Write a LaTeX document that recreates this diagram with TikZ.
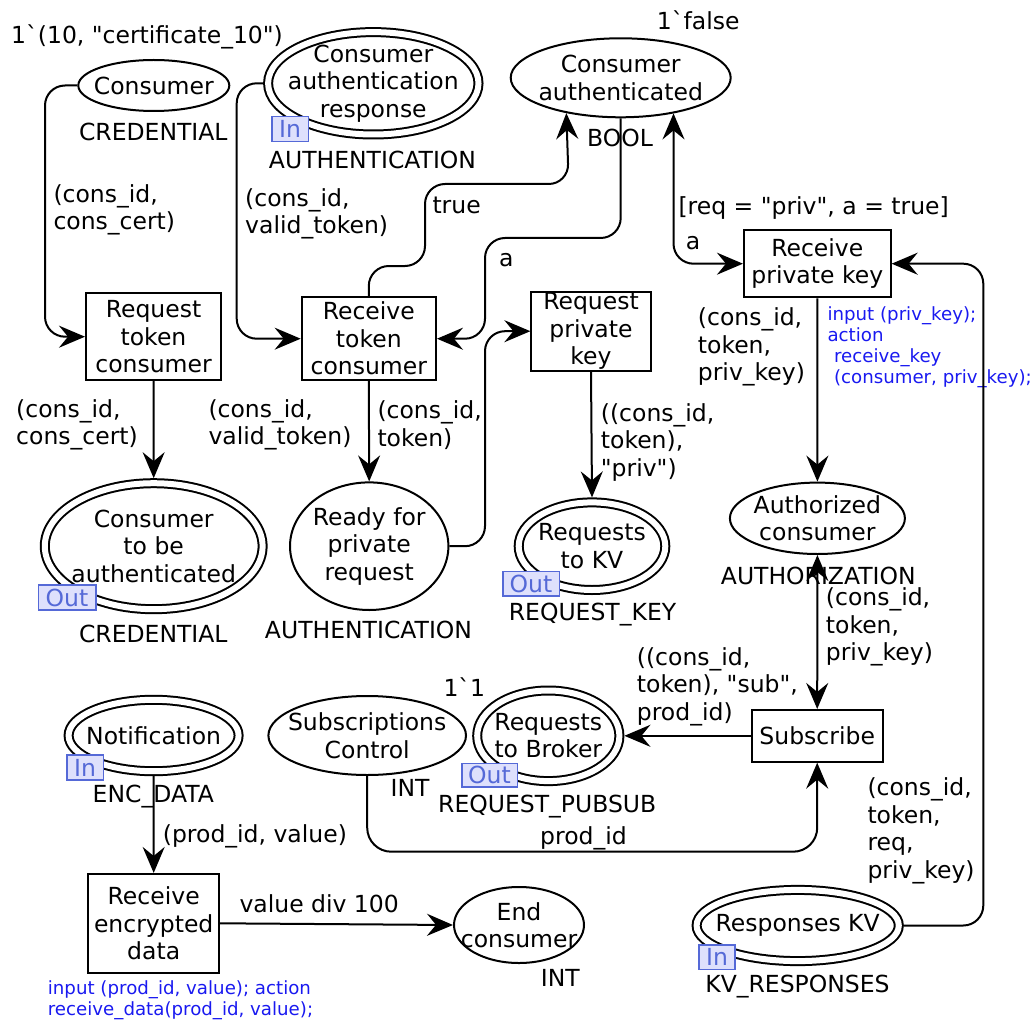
\documentclass[tikz,border=0pt]{standalone}
\usepackage{fontspec}
\newfontfamily\cpnfont{DejaVu Sans}
\usetikzlibrary{shapes.geometric,arrows.meta}
\definecolor{codeblue}{RGB}{25,25,240}
\definecolor{portline}{RGB}{85,105,215}
\definecolor{portfill}{RGB}{222,224,252}

\tikzset{
  place/.style={ellipse, draw, line width=2pt, inner sep=0pt},
  ioplace/.style={ellipse, draw, line width=2pt, double=white, double distance=6pt, inner sep=0pt, outer sep=5pt},
  trans/.style={rectangle, draw, line width=2pt, inner sep=0pt, align=center},
  ptext/.style={align=center, inner sep=0pt},
  lbl/.style={inner sep=0pt, anchor=west, align=left},
  ctr/.style={inner sep=0pt},
  code/.style={inner sep=0pt, anchor=west, align=left, text=codeblue, font=\cpnfont\fontsize{18.2pt}{20.8pt}\selectfont},
  port/.style={draw=portline, fill=portfill, text=portline, line width=1.6pt, inner sep=0pt},
  cpn/.tip={Stealth[length=26pt,width=22pt,inset=9pt]},
  arc/.style={draw, line width=2pt, -{cpn}, rounded corners=20pt},
  biarc/.style={draw, line width=2pt, {cpn}-{cpn}, rounded corners=20pt},
}

\begin{document}
\begin{tikzpicture}[x=1pt, y=-1pt, font=\cpnfont\fontsize{23.5pt}{27.5pt}\selectfont]
\path[use as bounding box] (0,0) rectangle (1035,1024);

% places
\node[place, minimum width=151, minimum height=51, label={[ptext]center:Consumer}] (cons) at (153.8,85.5) {};
\node[ioplace, minimum width=210.4, minimum height=102.4, label={[ptext]center:Consumer\\authentication\\response}] (car) at (373.3,83.3) {};
\node[place, minimum width=220, minimum height=79, label={[ptext]center:Consumer\\authenticated}] (ca) at (620.7,77.8) {};
\node[ioplace, minimum width=217.8, minimum height=126, label={[ptext]center:Consumer\\to be\\authenticated}] (ctba) at (153.7,546.2) {};
\node[place, minimum width=158.4, minimum height=127.6, label={[ptext]center:Ready for\\private\\request}] (rfp) at (369.2,546.2) {};
\node[ioplace, minimum width=146.6, minimum height=87.6, label={[ptext]center:Requests\\to KV}] (rkv) at (592,546.2) {};
\node[place, minimum width=175, minimum height=71.4, label={[ptext]center:Authorized\\consumer}] (ac) at (817.4,518.3) {};
\node[ioplace, minimum width=170, minimum height=71.4, label={[ptext]center:Notification}] (notif) at (153.6,735.5) {};
\node[place, minimum width=197.6, minimum height=79, label={[ptext]center:Subscriptions\\Control}] (sc) at (367.2,735.5) {};
\node[ioplace, minimum width=142.2, minimum height=90.6, label={[ptext]center:Requests\\to Broker}] (rtb) at (548.3,735.8) {};
\node[place, minimum width=130, minimum height=76, label={[ptext]center:End\\consumer}] (endc) at (519,925) {};
\node[ioplace, minimum width=202.2, minimum height=71.2, label={[ptext]center:Responses KV}] (rkvr) at (797.7,925.5) {};

% transitions
\node[trans, minimum width=135, minimum height=86.7] (rtc) at (153.5,336.7) {Request\\token\\consumer};
\node[trans, minimum width=134.3, minimum height=82.7] (rcv) at (368.8,338.7) {Receive\\token\\consumer};
\node[trans, minimum width=119.3, minimum height=79] (rpk) at (591,331.2) {Request\\private\\key};
\node[trans, minimum width=146.7, minimum height=67.3] (rprk) at (817.3,263.7) {Receive\\private key};
\node[trans, minimum width=131, minimum height=51.7] (sub) at (817.2,735.8) {Subscribe};
\node[trans, minimum width=130.7, minimum height=98.7] (red) at (153.7,923.3) {Receive\\encrypted\\data};

% port tags
\node[port, minimum width=36.6, minimum height=25] (carport) at (290,129.2) {In};
\node[port, minimum width=57.4, minimum height=25] (ctbaport) at (67,597.5) {Out};
\node[port, minimum width=56.6, minimum height=24.3] (rkvport) at (531,583.8) {Out};
\node[port, minimum width=36.6, minimum height=25] (notifport) at (85,767.5) {In};
\node[port, minimum width=55.6, minimum height=23.4] (rtbport) at (489.5,775) {Out};
\node[port, minimum width=36, minimum height=24.3] (rkvrport) at (717,957.2) {In};

% colour sets
\node[ctr] (t1) at (153.3,131.7) {CREDENTIAL};
\node[ctr] (t2) at (372.5,160) {AUTHENTICATION};
\node[ctr] (t3) at (620,138) {BOOL};
\node[ctr] (t4) at (153.3,634.3) {CREDENTIAL};
\node[ctr] (t5) at (368.5,630) {AUTHENTICATION};
\node[ctr] (t6) at (592.5,614.3) {REQUEST\_KEY};
\node[ctr] (t7) at (818.3,575.7) {AUTHORIZATION};
\node[ctr] (t8) at (153.3,797) {ENC\_DATA};
\node[ctr] (t9) at (410,788) {INT};
\node[ctr] (t10) at (547.2,806.7) {REQUEST\_PUBSUB};
\node[ctr] (t11) at (560.3,978.3) {INT};
\node[ctr] (t12) at (797.5,986.7) {KV\_RESPONSES};

% initial markings
\node[lbl] (m1) at (11,36.7) {1`(10, "certificate\_10")};
\node[lbl] (m2) at (656.7,20.7) {1`false};
\node[lbl] (m3) at (443.3,687.3) {1`1};

% guard
\node[lbl] (g1) at (678.3,208.3) {[req = "priv", a = true]};

% arc inscriptions
\node[lbl] (i1) at (53.3,209.7) {(cons\_id,\\cons\_cert)};
\node[lbl] (i2) at (245,213.7) {(cons\_id,\\valid\_token)};
\node[lbl] (i3) at (432.3,205.7) {true};
\node[lbl] (i4) at (499,260) {a};
\node[lbl] (i5) at (685.7,242.7) {a};
\node[lbl] (i6) at (16,425) {(cons\_id,\\cons\_cert)};
\node[lbl] (i7) at (208.3,425) {(cons\_id,\\valid\_token)};
\node[lbl] (i8) at (377.3,425) {(cons\_id,\\token)};
\node[lbl] (i9) at (600.7,442.2) {((cons\_id,\\token),\\"priv")};
\node[lbl] (i10) at (697.7,347.2) {(cons\_id,\\token,\\priv\_key)};
\node[lbl] (i11) at (825.7,627) {(cons\_id,\\token,\\priv\_key)};
\node[lbl] (i12) at (636.7,686.4) {((cons\_id,\\token), "sub",\\prod\_id)};
\node[lbl] (i13) at (162.7,836.7) {(prod\_id, value)};
\node[lbl] (i14) at (540,838.3) {prod\_id};
\node[lbl] (i15) at (867.3,830.7) {(cons\_id,\\token,\\req,\\priv\_key)};
\node[lbl] (i16) at (239.3,903.3) {value div 100};

% transition code segments
\node[code] (c1) at (827.3,347.1) {input (priv\_key);\\action\\\hspace*{6.5pt}receive\_key\\\hspace*{6.5pt}(consumer, priv\_key);};
\node[code] (c2) at (47.7,1000.5) {input (prod\_id, value); action\\receive\_data(prod\_id, value);};

% arcs
\draw[arc] (cons.west) -- (45,85.5) |- (rtc.west);
\draw[arc] (car.west) -- (236.7,83.3) |- (rcv.west);
\draw[arc] (rcv.north) |- (425,266) |- (568.7,184) -- (ca.213.8);
\draw[arc] (ca.south) |- (485,238) |- (rcv.east);
\draw[arc] (rfp.east) -- (485,546.2) |- (rpk.west);
\draw[biarc] (ca.326.6) |- (rprk.west);
\draw[arc] (rkvr.east) -- (983.3,925.5) |- (rprk.east);
\draw[arc] (rtc.south) -- (ctba.north);
\draw[arc] (rcv.south) -- (rfp.north);
\draw[arc] (rpk.south) -- (rkv.north);
\draw[arc] (rprk.south) -- (ac.north);
\draw[biarc] (sub.north) -- (ac.south);
\draw[arc] (sub.west) -- (rtb.east);
\draw[arc, rounded corners=24pt] (sc.south) -- (367.2,851.7) -| (sub.south);
\draw[arc] (notif.south) -- (red.north);
\draw[arc] (red.east) -- (endc.west);
\end{tikzpicture}
\end{document}
